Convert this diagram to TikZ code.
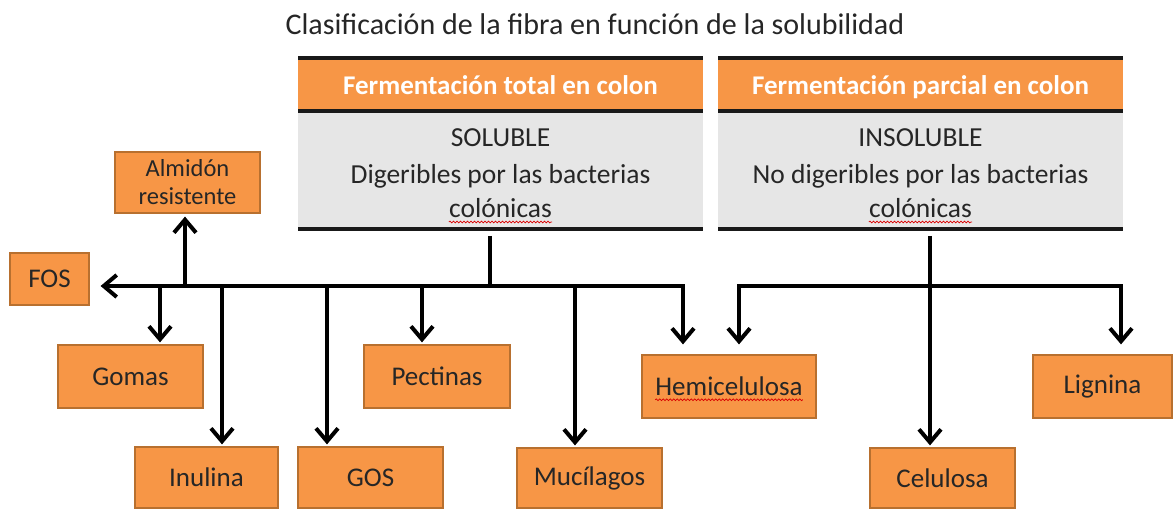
\documentclass[tikz,border=0pt]{standalone}
\usepackage{fontspec}
\setmainfont{Carlito}
\usetikzlibrary{arrows.meta,decorations.pathmorphing}
\definecolor{orfill}{HTML}{F79646}
\definecolor{orline}{HTML}{B8702F}
\definecolor{greyb}{HTML}{E6E6E6}
\definecolor{txt}{HTML}{262626}
\tikzset{
  box/.style={draw=orline, line width=1.2pt, fill=orfill, text=txt, font=\fontsize{27}{28}\selectfont, inner sep=0pt, align=center},
  conn/.style={line width=4pt, draw=black},
  tipend/.style={-{Straight Barb[length=13pt,width=22pt,line width=4pt]}},
  tipboth/.style={{Straight Barb[length=13pt,width=22pt,line width=4pt]}-{Straight Barb[length=13pt,width=22pt,line width=4pt]}},
  rule/.style={line width=3.5pt, draw=black!90},
  head/.style={text=white, font=\fontsize{27}{28}\selectfont\bfseries, inner sep=0pt, anchor=base},
  body/.style={text=txt, font=\fontsize{27.5}{28}\selectfont, inner sep=0pt, anchor=base},
  spell/.style={draw=red!85!black, line width=0.7pt, decorate, decoration={snake, segment length=3.5pt, amplitude=0.9pt}}
}
\begin{document}
\begin{tikzpicture}[x=1pt,y=-1pt]
\useasboundingbox (0,0) rectangle (1174,510);
% title
\node[text=txt, font=\fontsize{30}{32}\selectfont, inner sep=0pt, anchor=base] (title) at (595,35) {Clasificación de la fibra en función de la solubilidad};
% table 1
\fill[orfill] (298,58) rectangle (703,111);
\fill[greyb] (298,111) rectangle (703,229);
\draw[rule] (298,58) -- (703,58);
\draw[rule] (298,111) -- (703,111);
\draw[rule] (298,229) -- (703,229);
\node[head] (h1) at (500.5,95) {Fermentación total en colon};
\node[body] (s1) at (500.5,147) {SOLUBLE};
\node[body] (s2) at (500.5,184) {Digeribles por las bacterias};
\node[body] (s3) at (500.5,218) {colónicas};
\draw[spell] ([yshift=-4pt]s3.base west) -- ([yshift=-4pt]s3.base east);
% table 2
\fill[orfill] (718,58) rectangle (1123,111);
\fill[greyb] (718,111) rectangle (1123,229);
\draw[rule] (718,58) -- (1123,58);
\draw[rule] (718,111) -- (1123,111);
\draw[rule] (718,229) -- (1123,229);
\node[head] (h2) at (920.5,95) {Fermentación parcial en colon};
\node[body] (i1) at (920.5,147) {INSOLUBLE};
\node[body] (i2) at (920.5,184) {No digeribles por las bacterias};
\node[body] (i3) at (920.5,218) {colónicas};
\draw[spell] ([yshift=-4pt]i3.base west) -- ([yshift=-4pt]i3.base east);
% boxes
\node[box, minimum width=145pt, minimum height=61pt, font=\fontsize{24.5}{28}\selectfont] (almidon) at (187.5,182.5) {Almidón\\resistente};
\node[box, minimum width=79pt, minimum height=52pt] (fos) at (49.5,279) {FOS};
\node[box, minimum width=145pt, minimum height=63pt] (gomas) at (130.5,376.5) {Gomas};
\node[box, minimum width=143pt, minimum height=61pt] (inulina) at (206.5,477.5) {Inulina};
\node[box, minimum width=145pt, minimum height=61pt] (gos) at (370.5,477.5) {GOS};
\node[box, minimum width=146pt, minimum height=63pt] (pectinas) at (437,376.5) {Pectinas};
\node[box, minimum width=145pt, minimum height=60pt] (mucilagos) at (589.5,478) {Mucílagos};
\node[box, minimum width=174pt, minimum height=63pt] (hemi) at (729,386.5) {Hemicelulosa};
\node[body, font=\fontsize{27}{28}\selectfont] (hemitxt) at (hemi.base) {\phantom{Hemicelulosa}};
\draw[spell] ([yshift=-4pt]hemitxt.base west) -- ([yshift=-4pt]hemitxt.base east);
\node[box, minimum width=145pt, minimum height=60pt] (celulosa) at (942.5,478) {Celulosa};
\node[box, minimum width=139pt, minimum height=63pt] (lignina) at (1102.5,386.5) {Lignina};
% junction coordinates
\coordinate (sol) at (490,236);
\coordinate (solj) at (490,286);
\coordinate (solr) at (683,286);
\coordinate (ins) at (930,236);
\coordinate (insl) at (739,286);
\coordinate (insr) at (1121,286);
% soluble connectors
\draw[conn] (sol) -- (solj);
\draw[conn, tipboth] ([xshift=11pt]fos.east |- solr) -- (solr) -- ([yshift=10pt]solr |- hemi.north);
\draw[conn, tipend] (185,286) -- ([yshift=-3pt]185,0 |- almidon.south);
\draw[conn, tipend] (160,286) -- ([yshift=2pt]160,0 |- gomas.north);
\draw[conn, tipend] (222,286) -- ([yshift=2pt]222,0 |- inulina.north);
\draw[conn, tipend] (327,286) -- ([yshift=2pt]327,0 |- gos.north);
\draw[conn, tipend] (422,286) -- ([yshift=2pt]422,0 |- pectinas.north);
\draw[conn, tipend] (575,286) -- ([yshift=2pt]575,0 |- mucilagos.north);
% insoluble connectors
\draw[conn, tipend] (ins) -- ([yshift=2pt]ins |- celulosa.north);
\draw[conn, tipboth] ([yshift=10pt]insl |- hemi.north) -- (insl) -- (insr) -- ([yshift=10pt]insr |- lignina.north);
\end{tikzpicture}
\end{document}
